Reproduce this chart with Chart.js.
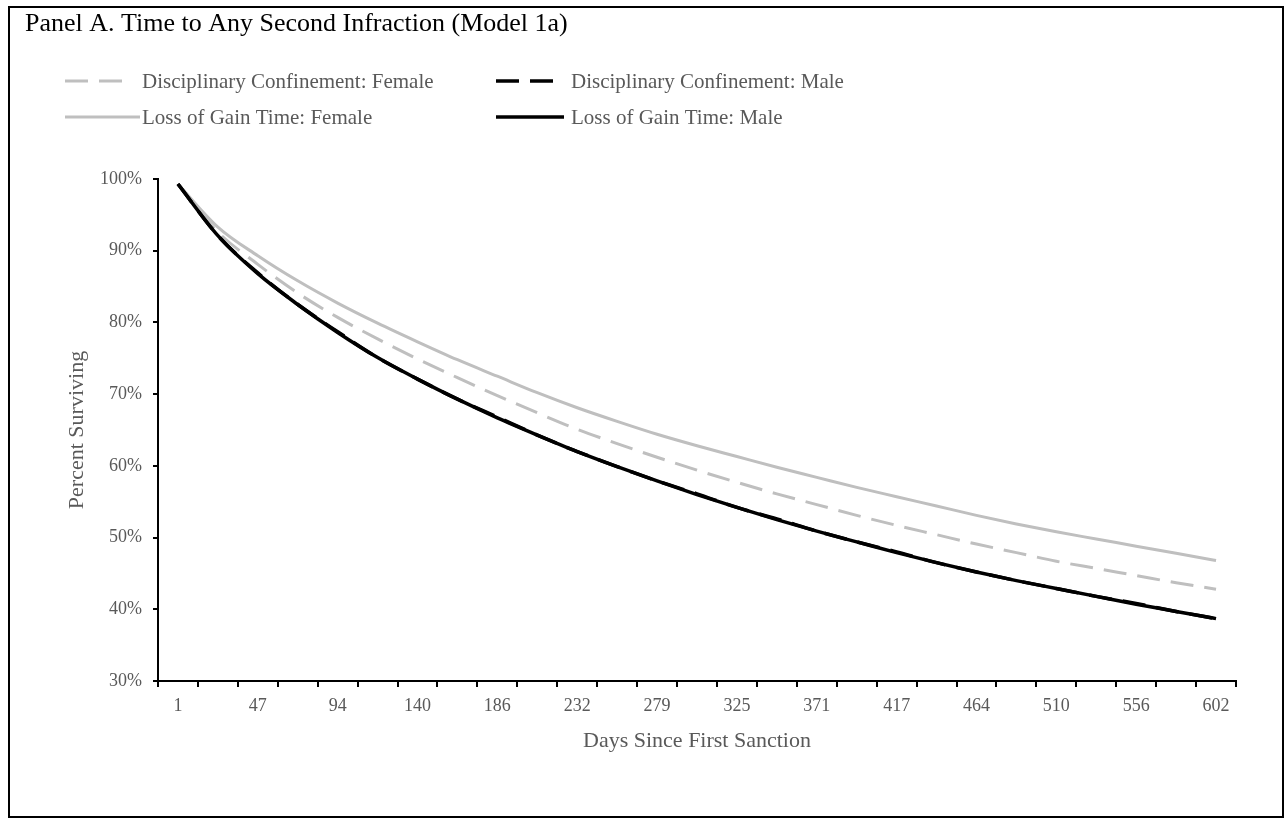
<!DOCTYPE html>
<html>
<head>
<meta charset="utf-8">
<script src="https://cdn.jsdelivr.net/npm/chart.js@4.4.0/dist/chart.umd.min.js"></script>
<style>
  html, body { margin: 0; padding: 0; background: #fff; }
  #frame { position: absolute; left: 8px; top: 6px; width: 1276px; height: 812px;
           border: 2px solid #000; box-sizing: border-box; background: #fff; }
  #c { display: block; }
</style>
</head>
<body>
<div id="frame"><canvas id="c" width="1272" height="808"></canvas></div>
<script>
// Days since first sanction (every other category is labelled on the axis)
const days = [1, 24, 47, 70, 94, 117, 140, 163, 186, 209, 232, 256, 279, 302,
              325, 348, 371, 394, 417, 441, 464, 487, 510, 533, 556, 579, 602];

// Percent surviving without a second infraction
const dcFemale  = [99.3, 92.6, 88.1, 84.1, 80.7, 77.7, 74.9, 72.3, 69.8, 67.4, 65.1, 63.1, 61.2, 59.4,
                   57.7, 56.1, 54.6, 53.1, 51.7, 50.4, 49.1, 47.9, 46.7, 45.7, 44.7, 43.7, 42.8];
const dcMale    = [99.3, 92.1, 86.9, 82.5, 78.7, 75.1, 72.1, 69.3, 66.8, 64.3, 62.0, 59.9, 57.9, 56.1,
                   54.2, 52.6, 50.9, 49.4, 48.0, 46.5, 45.2, 44.0, 42.9, 41.8, 40.8, 39.7, 38.7];
const lgtFemale = [99.3, 93.3, 89.3, 85.8, 82.7, 79.9, 77.3, 74.8, 72.5, 70.2, 68.1, 66.2, 64.4, 62.8,
                   61.3, 59.8, 58.4, 57.0, 55.7, 54.4, 53.1, 51.9, 50.8, 49.8, 48.8, 47.8, 46.8];
const lgtMale   = [99.3, 92.1, 86.8, 82.5, 78.6, 75.1, 72.1, 69.3, 66.7, 64.3, 62.0, 59.9, 57.9, 56.0,
                   54.2, 52.5, 50.9, 49.4, 47.9, 46.5, 45.2, 44.0, 42.9, 41.8, 40.7, 39.7, 38.7];

const seriesNames = [
  'Disciplinary Confinement: Female',
  'Disciplinary Confinement: Male',
  'Loss of Gain Time: Female',
  'Loss of Gain Time: Male'
];
const yTicks = [30, 40, 50, 60, 70, 80, 90, 100];

const panelTitle = 'Panel A. Time to Any Second Infraction (Model 1a)';
const xTitle = 'Days Since First Sanction';
const yTitle = 'Percent Surviving';

const GREY = '#bfbfbf';
const BLACK = '#000000';
const TEXT = '#595959';
const SERIF = "'Liberation Serif', 'Times New Roman', serif";
const DASH = [23, 11];

// Title and a two-column legend drawn above the plot
const panelHeader = {
  id: 'panelHeader',
  afterDraw(chart, args, o) {
    const ctx = chart.ctx;
    ctx.save();
    ctx.textAlign = 'left';
    ctx.textBaseline = 'middle';
    ctx.fillStyle = '#000';
    ctx.font = `${o.titleSize}px ${SERIF}`;
    ctx.fillText(o.title, o.titleX, o.titleY);

    ctx.font = `${o.legendSize}px ${SERIF}`;
    chart.data.datasets.forEach((ds, i) => {
      const col = i % 2, row = Math.floor(i / 2);
      const x = o.colX[col], y = o.rowY[row];
      const dashed = ds.borderDash && ds.borderDash.length;
      const len = dashed ? ds.borderDash[0] * 2 + ds.borderDash[1] : o.solidLen[col];
      ctx.beginPath();
      ctx.setLineDash(dashed ? ds.borderDash : []);
      ctx.strokeStyle = ds.borderColor;
      ctx.lineWidth = ds.borderWidth;
      ctx.moveTo(x, y);
      ctx.lineTo(x + len, y);
      ctx.stroke();
      ctx.setLineDash([]);
      ctx.fillStyle = TEXT;
      ctx.fillText(ds.label, o.textX[col], y + 1);
    });
    ctx.restore();
  }
};

const mk = (label, data, color, dashed, width, order) => ({
  label, data,
  borderColor: color,
  backgroundColor: color,
  borderWidth: width,
  borderDash: dashed ? DASH : [],
  borderCapStyle: 'butt',
  pointRadius: 0,
  fill: false,
  cubicInterpolationMode: 'monotone',
  order
});

new Chart(document.getElementById('c'), {
  type: 'line',
  data: {
    labels: days.map(String),
    datasets: [
      mk(seriesNames[0], dcFemale, GREY, true, 3, 4),
      mk(seriesNames[1], dcMale, BLACK, true, 3.5, 2),
      mk(seriesNames[2], lgtFemale, GREY, false, 3, 3),
      mk(seriesNames[3], lgtMale, BLACK, false, 3.5, 1)
    ]
  },
  options: {
    responsive: false,
    animation: false,
    devicePixelRatio: 1,
    layout: { padding: { top: 171, right: 46, left: 0, bottom: 0 } },
    plugins: {
      legend: { display: false },
      tooltip: { enabled: false },
      panelHeader: {
        title: panelTitle, titleSize: 26, titleX: 15, titleY: 16.5,
        legendSize: 21, colX: [55, 486], textX: [132, 561], rowY: [73, 109], solidLen: [75, 68]
      }
    },
    scales: {
      x: {
        type: 'category',
        offset: true,
        afterFit(s) { s.height = 135; },
        grid: { display: true, drawOnChartArea: false, drawTicks: true, tickLength: 6,
                offset: true, color: BLACK, lineWidth: 2 },
        border: { display: true, color: BLACK, width: 2 },
        ticks: {
          autoSkip: false, maxRotation: 0, minRotation: 0, padding: 8,
          color: TEXT, font: { family: SERIF, size: 18 },
          callback(v, i) { return i % 2 === 0 ? this.getLabelForValue(v) : ''; }
        },
        title: { display: true, text: xTitle, color: TEXT,
                 font: { family: SERIF, size: 22 }, padding: { top: 0, bottom: 62 } }
      },
      y: {
        min: 30, max: 100,
        afterFit(s) { s.width = 148; },
        afterBuildTicks(s) { s.ticks = yTicks.map(v => ({ value: v })); },
        grid: { display: true, drawOnChartArea: false, drawTicks: true, tickLength: 5,
                color: BLACK, lineWidth: 2 },
        border: { display: true, color: BLACK, width: 2 },
        ticks: { padding: 11, color: TEXT, font: { family: SERIF, size: 18 },
                 callback: v => v + '%' },
        title: { display: true, text: yTitle, color: TEXT,
                 font: { family: SERIF, size: 22 }, padding: { top: 54, bottom: 0 } }
      }
    }
  },
  plugins: [panelHeader]
});
</script>
</body>
</html>
